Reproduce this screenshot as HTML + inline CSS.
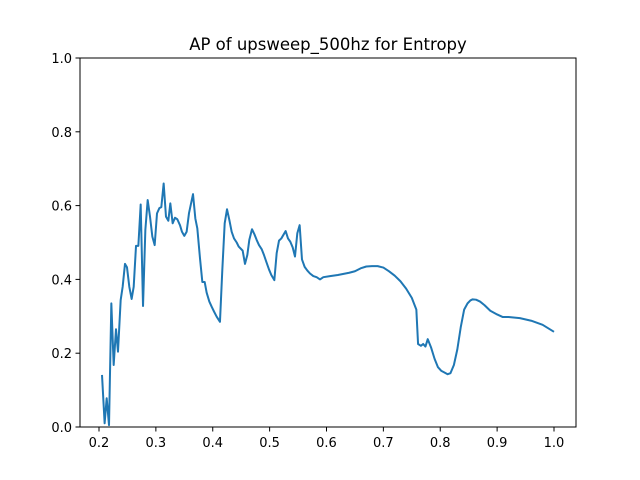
<!DOCTYPE html>
<html><head><meta charset="utf-8"><style>
html,body{margin:0;padding:0;background:#fff;}
svg{display:block;font-family:"DejaVu Sans","Liberation Sans",sans-serif;}
</style></head><body>
<svg id="chart" width="640" height="480">
<rect width="640" height="480" fill="#fff"/>
<text x="328" y="50" text-anchor="middle" font-size="16.5">AP of upsweep_500hz for Entropy</text>
<g id="plot"></g>
</svg>
<script>
const xValues=[.2053,.2099,.2135,.2176,.2217,.2258,.2299,.2334,.2381,.2416,.2457,.2492,.2533,.2574,.2610,.2651,.2692,.2733,.2774,.2815,.2856,.2897,.2938,.2979,.3020,.3061,.3096,.3137,.3178,.3219,.3254,.3295,.3336,.3377,.3424,.3459,.3500,.3541,.3582,.3653,.3694,.3729,.3776,.3817,.3858,.3893,.3940,.3981,.4022,.4069,.4127,.4168,.4210,.4251,.4292,.4333,.4374,.4421,.4456,.4526,.4567,.4608,.4643,.4690,.4731,.4772,.4813,.4860,.4901,.4948,.4989,.5030,.5083,.5124,.5165,.5206,.5282,.5323,.5364,.5405,.5446,.5487,.5528,.5569,.5616,.5663,.5710,.5768,.5827,.5886,.5944,.6062,.62,.64,.65,.66,.67,.68,.69,.70,.71,.72,.73,.74,.75,.755,.758,.761,.766,.770,.774,.778,.784,.790,.796,.802,.807,.813,.818,.824,.830,.836,.842,.848,.853,.857,.863,.870,.878,.888,.90,.91,.92,.94,.96,.98,1.0];
const yValues=[.141,.010,.078,.005,.335,.168,.265,.204,.344,.380,.442,.433,.380,.347,.380,.491,.491,.603,.328,.534,.615,.570,.516,.493,.579,.593,.596,.660,.570,.559,.606,.552,.567,.563,.547,.529,.518,.529,.579,.631,.565,.538,.457,.393,.393,.364,.340,.326,.313,.299,.285,.425,.552,.590,.561,.529,.511,.500,.489,.478,.442,.466,.507,.536,.523,.507,.493,.482,.466,.445,.427,.412,.398,.471,.505,.511,.531,.511,.502,.487,.462,.525,.547,.454,.434,.424,.416,.409,.406,.400,.406,.409,.412,.418,.422,.430,.435,.436,.436,.432,.422,.410,.395,.375,.350,.330,.318,.225,.220,.225,.218,.238,.215,.185,.162,.152,.148,.143,.146,.168,.210,.270,.318,.335,.343,.346,.345,.340,.330,.315,.305,.298,.298,.295,.288,.277,.258];
const xTicks=[0.2,0.3,0.4,0.5,0.6,0.7,0.8,0.9,1.0];
const xTickLabels=["0.2","0.3","0.4","0.5","0.6","0.7","0.8","0.9","1.0"];
const yTicks=[0,0.2,0.4,0.6,0.8,1.0];
const yTickLabels=["0.0","0.2","0.4","0.6","0.8","1.0"];
const L=80,R=576,T=58,B=427;
const X0=0.1666,X1=1.0387;
function sx(v){return L+(v-X0)/(X1-X0)*(R-L);}
function sy(v){return B-v*(B-T);}
const NS="http://www.w3.org/2000/svg";
const g=document.getElementById('plot');
function mk(t,a){const e=document.createElementNS(NS,t);for(const k in a)e.setAttribute(k,a[k]);g.appendChild(e);return e;}
const n=Math.min(xValues.length,yValues.length);
let d='';
for(let i=0;i<n;i++){d+=(i?'L':'M')+sx(xValues[i]).toFixed(2)+','+sy(yValues[i]).toFixed(2);}
const line=mk('path',{d:d,fill:'none',stroke:'#1f77b4','stroke-width':2,'stroke-linejoin':'round'});


const frame=mk('rect',{x:L,y:T,width:R-L,height:B-T,fill:'none',stroke:'#000','stroke-width':1});


xTicks.forEach((v,i)=>{
 const t=mk('line',{x1:sx(v),x2:sx(v),y1:B,y2:B+4.5,stroke:'#000','stroke-width':1});
 
 
 const l=mk('text',{x:sx(v),y:B+20,'text-anchor':'middle','font-size':13});
 l.textContent=xTickLabels[i];
 
 
});
yTicks.forEach((v,i)=>{
 const t=mk('line',{x1:L-4.5,x2:L,y1:sy(v),y2:sy(v),stroke:'#000','stroke-width':1});
 
 
 const l=mk('text',{x:L-8,y:sy(v)+5,'text-anchor':'end','font-size':13});
 l.textContent=yTickLabels[i];
 
 
});
</script>
</body></html>
